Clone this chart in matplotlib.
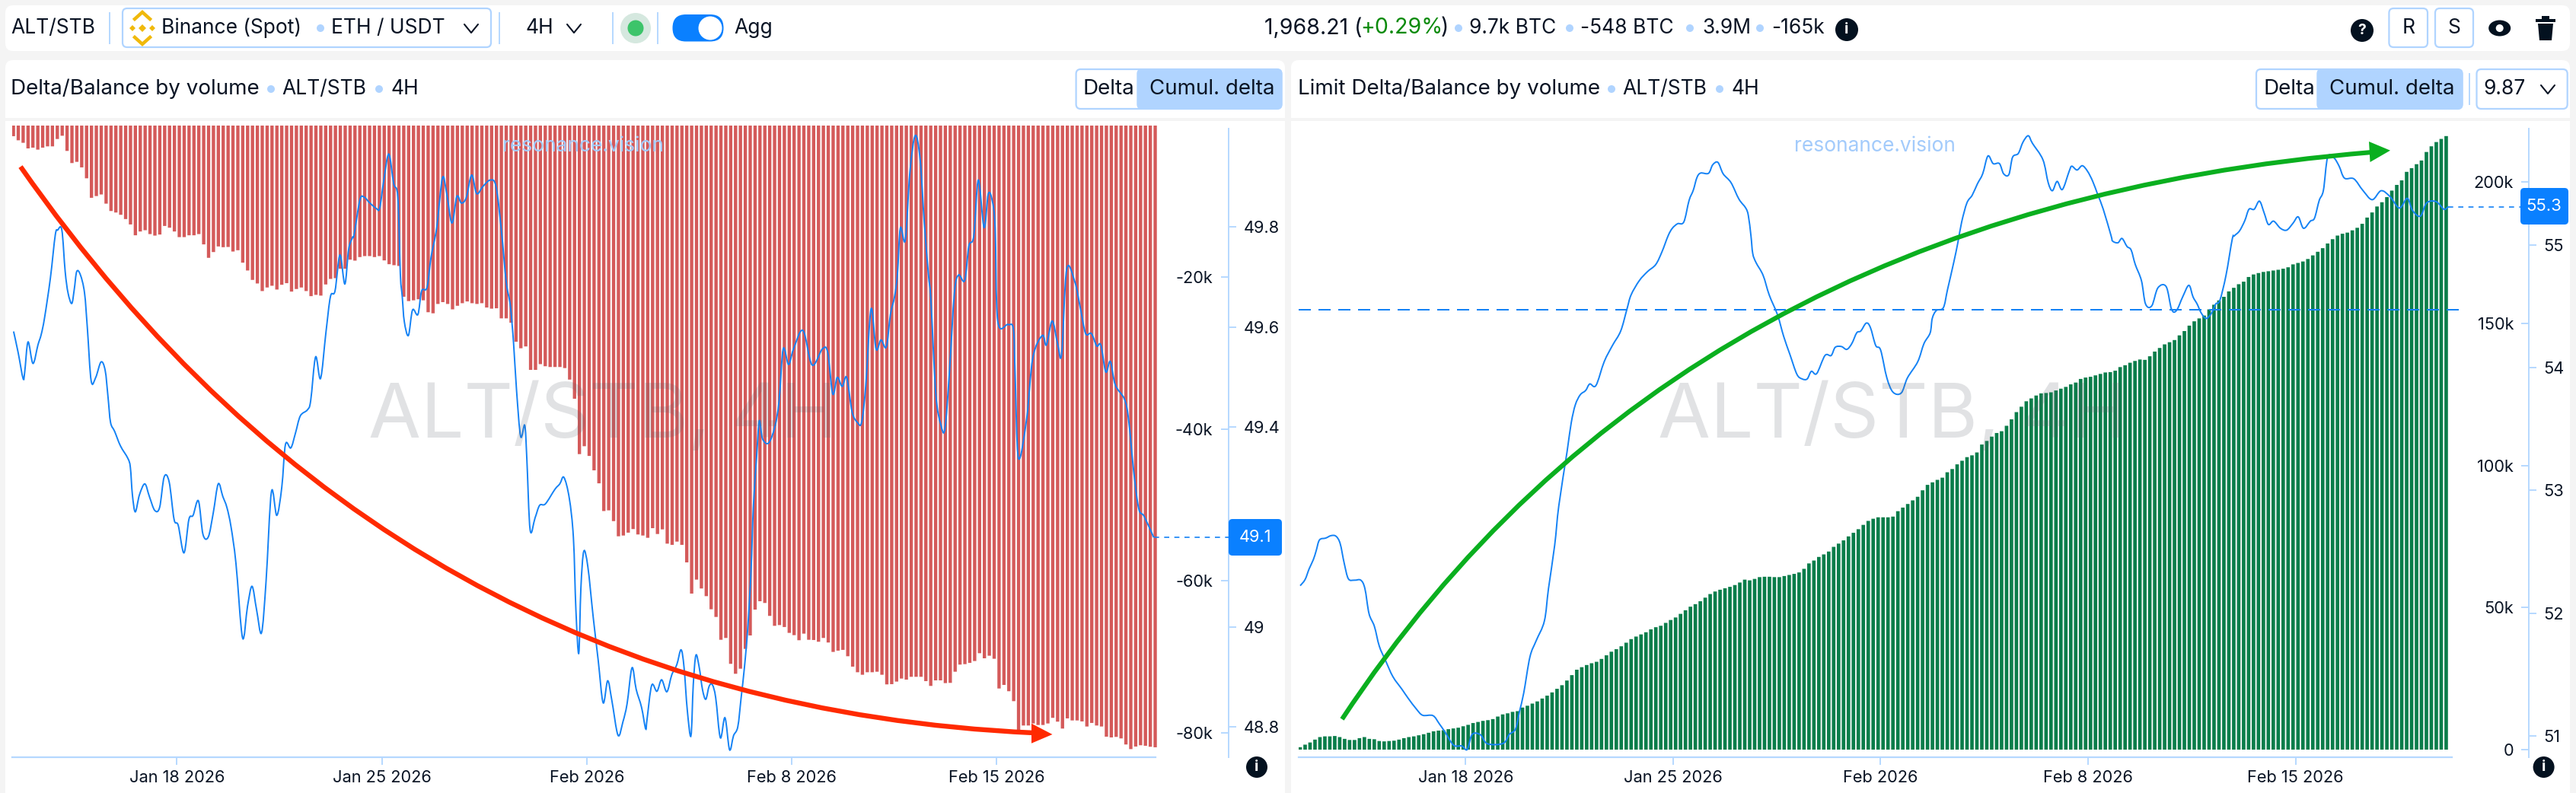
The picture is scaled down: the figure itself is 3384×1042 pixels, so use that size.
import numpy as np
import pandas as pd
import matplotlib
matplotlib.use("Agg")
import matplotlib.pyplot as plt
import matplotlib.dates as mdates
from matplotlib.patches import Circle, Ellipse, FancyBboxPatch, PathPatch, Polygon, Rectangle
from matplotlib.path import Path

plt.rcParams['font.family'] = ['Inter', 'DejaVu Sans']

W, H = 3384, 1042
BAR_START = pd.Timestamp("2026-01-12 10:00")
TICK_DATES = ["2026-01-18", "2026-01-25", "2026-02-01", "2026-02-08", "2026-02-15"]
TICK_LABELS = ["Jan 18 2026", "Jan 25 2026", "Feb 2026", "Feb 8 2026", "Feb 15 2026"]

# cumulative delta, left panel (thousands)
left_delta = [
    -1.40, -1.94, -2.27, -3.01, -2.91, -3.17, -2.91, -2.74, -2.74, -1.77,
    -1.34, -3.34, -4.94, -4.78, -5.51, -6.95, -9.52, -9.29, -9.08, -10.29,
    -11.26, -11.46, -11.76, -12.32, -13.03, -14.46, -13.96, -13.79, -14.30, -14.50,
    -14.36, -13.23, -13.46, -13.96, -14.70, -14.70, -14.46, -14.46, -14.30, -15.66,
    -17.43, -16.67, -15.93, -16.03, -16.00, -16.60, -16.43, -18.07, -19.10, -20.34,
    -20.81, -21.81, -21.34, -21.11, -21.61, -20.98, -20.77, -21.88, -21.54, -21.34,
    -21.81, -22.48, -22.31, -22.41, -20.94, -20.21, -20.11, -18.87, -18.87, -17.67,
    -17.80, -17.33, -17.20, -17.20, -17.33, -17.20, -17.77, -18.27, -18.40, -18.50,
    -22.56, -23.13, -23.03, -22.89, -23.03, -24.60, -24.74, -23.51, -23.27, -23.51,
    -24.22, -23.75, -23.41, -23.18, -23.41, -23.51, -23.41, -23.98, -24.13, -24.08,
    -25.41, -25.41, -25.98, -28.49, -29.35, -29.11, -32.20, -32.20, -31.44, -31.72,
    -31.82, -31.82, -31.82, -31.96, -33.48, -36.00, -43.30, -42.26, -43.54, -45.44,
    -47.15, -50.80, -50.71, -52.13, -54.13, -54.03, -53.65, -53.18, -53.89, -54.03,
    -54.33, -53.06, -53.83, -53.22, -55.10, -55.26, -54.83, -55.26, -57.57, -61.68,
    -59.84, -61.01, -62.02, -63.75, -64.76, -67.77, -67.53, -70.94, -72.25, -71.58,
    -68.97, -67.20, -63.79, -62.69, -62.92, -64.62, -65.93, -65.83, -66.09, -66.86,
    -67.16, -67.83, -66.96, -67.77, -67.80, -68.03, -67.53, -68.13, -69.37, -69.20,
    -69.10, -69.94, -71.31, -72.05, -72.38, -72.05, -72.05, -71.98, -72.38, -73.65,
    -73.62, -73.28, -72.88, -73.02, -72.65, -72.65, -72.65, -73.22, -73.85, -73.12,
    -73.12, -73.48, -73.45, -71.98, -71.04, -70.98, -70.81, -70.57, -69.54, -70.21,
    -69.87, -70.27, -74.19, -73.72, -74.55, -75.86, -79.73, -79.07, -79.07, -78.80,
    -79.00, -79.00, -78.80, -78.06, -78.56, -79.47, -78.13, -78.40, -78.40, -78.53,
    -79.20, -78.73, -79.07, -79.20, -80.54, -80.64, -80.57, -80.77, -81.57, -82.18,
    -81.84, -81.67, -81.74, -81.87, -81.94,
]

# balance line, left panel: bar position and value
left_line_pos = [
    0.04, 0.97, 1.98, 2.32, 3.0, 4.01, 5.03, 5.7, 6.38, 7.57, 8.58, 9.09, 9.93, 10.61, 11.2, 11.96,
    12.47, 12.98, 13.74, 14.58, 15.17, 15.94, 16.87, 17.96, 18.81, 19.4, 19.91, 20.75, 21.94, 23.46,
    23.97, 24.39, 24.98, 25.83, 26.93, 27.86, 28.96, 29.97, 30.9, 31.92, 32.93, 33.78, 34.96, 35.97,
    36.82, 37.92, 38.85, 39.95, 40.96, 41.98, 42.91, 43.75, 44.6, 45.61, 46.96, 47.98, 48.91, 49.84,
    50.85, 51.78, 52.88, 53.98, 55.0, 55.76, 56.86, 57.79, 58.8, 60.24, 60.92, 61.93, 62.95, 64.05,
    64.98, 65.91, 66.92, 67.93, 68.7, 69.54, 69.83, 71.01, 71.86, 72.96, 74.39, 75.07, 75.92, 76.93,
    77.94, 78.79, 79.3, 79.69, 80.11, 80.95, 81.8, 82.9, 83.66, 84.76, 85.6, 86.74, 87.92, 88.77,
    89.87, 90.88, 91.81, 92.82, 93.92, 94.94, 96.21, 97.73, 98.91, 100.01, 101.0, 101.84, 102.51,
    103.11, 103.95, 104.8, 105.22, 105.9, 106.91, 107.84, 109.03, 110.97, 111.98, 112.83, 113.93,
    114.77, 115.28, 115.87, 116.3, 116.89, 117.73, 118.83, 119.85, 120.86, 121.79, 122.64, 123.91,
    124.92, 125.77, 126.78, 127.63, 128.73, 129.57, 129.86, 130.81, 131.89, 132.84, 133.92, 134.93,
    135.95, 136.83, 137.44, 138.11, 138.86, 139.33, 139.87, 140.55, 141.23, 141.9, 142.58, 143.25,
    143.93, 144.88, 145.83, 146.77, 147.58, 148.46, 149.14, 149.82, 150.49, 151.17, 151.64, 152.32,
    152.86, 153.53, 154.8, 156.07, 156.92, 157.76, 158.86, 159.88, 161.82, 163.68, 165.79, 166.89,
    167.91, 168.84, 169.85, 170.78, 171.88, 172.98, 173.83, 174.67, 175.77, 176.79, 177.8, 178.9,
    179.74, 180.59, 181.18, 181.77, 182.79, 183.72, 184.82, 185.83, 186.68, 187.52, 188.03, 189.04,
    190.06, 190.91, 191.83, 192.85, 193.7, 194.96, 195.81, 196.82, 197.75, 198.93, 199.78, 200.6,
    201.2, 201.73, 203.84, 204.94, 205.28, 205.96, 207.65, 208.91, 210.86, 211.7, 212.89, 213.99,
    214.83, 215.85, 217.54, 218.64, 219.74, 220.92, 222.02, 222.86, 223.88, 224.81, 225.82, 227.68,
    228.53, 229.63, 230.64, 231.74, 233.69,
]
left_line_val = [
    49.591, 49.549, 49.497, 49.510, 49.570, 49.527, 49.564, 49.585, 49.618, 49.697, 49.784, 49.794, 49.794, 49.711, 49.668, 49.647,
    49.675, 49.711, 49.704, 49.668, 49.596, 49.492, 49.499, 49.530, 49.513, 49.459, 49.409, 49.391, 49.362, 49.337,
    49.319, 49.264, 49.230, 49.264, 49.286, 49.261, 49.233, 49.239, 49.300, 49.290, 49.215, 49.203, 49.148, 49.215,
    49.223, 49.252, 49.185, 49.180, 49.228, 49.286, 49.261, 49.239, 49.200, 49.127, 48.978, 49.041, 49.081, 49.034,
    48.988, 49.091, 49.270, 49.223, 49.279, 49.365, 49.358, 49.387, 49.422, 49.434, 49.452, 49.540, 49.497, 49.589,
    49.661, 49.672, 49.744, 49.686, 49.755, 49.780, 49.785, 49.854, 49.860, 49.849, 49.837, 49.838, 49.894, 49.946,
    49.887, 49.859, 49.706, 49.661, 49.611, 49.583, 49.634, 49.625, 49.672, 49.679, 49.740, 49.798, 49.898, 49.869,
    49.808, 49.861, 49.848, 49.859, 49.904, 49.867, 49.881, 49.894, 49.881, 49.793, 49.690, 49.643, 49.567,
    49.474, 49.381, 49.403, 49.337, 49.194, 49.218, 49.243, 49.246, 49.275, 49.286, 49.299, 49.257,
    49.178, 49.034, 48.947, 49.077, 49.151, 49.120, 49.019, 48.933, 48.848, 48.892, 48.853, 48.783,
    48.810, 48.846, 48.918, 48.875, 48.839, 48.796, 48.815, 48.883, 48.871, 48.894, 48.870, 48.904,
    48.924, 48.954, 48.919, 48.833, 48.782, 48.884, 48.943, 48.919, 48.874, 48.855, 48.881, 48.884,
    48.858, 48.778, 48.818, 48.754, 48.782, 48.800, 48.858, 48.919, 48.996, 49.112, 49.239, 49.341,
    49.412, 49.376, 49.368, 49.401, 49.452, 49.556, 49.525, 49.556, 49.593, 49.524, 49.556, 49.549,
    49.466, 49.499, 49.481, 49.499, 49.430, 49.409, 49.409, 49.481, 49.636, 49.556, 49.574, 49.560,
    49.625, 49.661, 49.706, 49.798, 49.774, 49.909, 49.983, 49.935, 49.808, 49.706, 49.654, 49.466,
    49.405, 49.396, 49.510, 49.668, 49.704, 49.693, 49.762, 49.782, 49.894, 49.799, 49.866, 49.853,
    49.798, 49.612, 49.605, 49.596, 49.510, 49.338, 49.416, 49.538, 49.583, 49.564, 49.612, 49.567,
    49.546, 49.715, 49.690, 49.639, 49.587, 49.587, 49.562, 49.564, 49.510, 49.531, 49.484, 49.456,
    49.416, 49.308, 49.236, 49.221, 49.179,
]

# limit cumulative delta, right panel (thousands)
right_delta = [
    0.86, 1.75, 2.52, 3.53, 4.42, 4.67, 4.67, 4.80, 4.42, 3.79,
    3.40, 3.40, 4.04, 4.42, 3.79, 3.66, 3.03, 2.90, 3.03, 3.15,
    3.53, 4.04, 4.42, 4.67, 5.05, 5.43, 5.94, 6.45, 6.70, 6.83,
    7.21, 7.46, 7.72, 8.23, 8.73, 9.37, 9.75, 10.13, 10.38, 10.76,
    11.65, 12.41, 12.79, 13.30, 13.55, 14.82, 15.46, 16.22, 16.98, 18.00,
    19.01, 20.15, 21.42, 22.69, 24.34, 26.24, 28.15, 29.04, 29.80, 30.43,
    30.94, 31.95, 33.22, 34.49, 35.38, 36.40, 37.66, 38.93, 39.82, 40.58,
    41.34, 42.36, 43.12, 43.63, 44.64, 45.66, 46.55, 47.82, 49.09, 50.35,
    51.24, 52.26, 53.53, 54.80, 55.69, 56.32, 56.83, 57.34, 57.97, 58.86,
    59.87, 59.62, 60.13, 60.76, 60.89, 60.89, 60.76, 60.76, 61.14, 61.52,
    61.90, 62.41, 63.68, 65.58, 66.60, 67.87, 68.76, 69.77, 71.42, 72.56,
    73.70, 75.10, 76.37, 77.64, 79.16, 80.56, 81.32, 81.83, 81.83, 81.83,
    82.08, 83.98, 85.25, 86.52, 87.79, 89.06, 91.34, 93.25,
    94.14, 95.02, 95.79, 97.69, 98.83, 100.48, 101.75, 103.02, 103.65, 104.67,
    107.46, 108.73, 110.25, 111.52, 112.15, 114.06, 116.34, 118.88, 120.78, 122.69,
    123.70, 124.72, 125.48, 125.61, 125.86, 126.50, 127.13, 127.76, 128.65, 129.29,
    130.56, 131.06, 131.32, 131.82, 132.33, 132.84, 132.97, 133.47, 134.74, 135.38,
    136.27, 136.90, 137.41, 137.28, 138.55, 140.20, 141.47, 142.74, 143.50, 144.26,
    145.91, 147.43, 149.34, 150.86, 151.88, 152.89, 155.05, 156.70, 158.22, 159.49,
    161.39, 162.66, 163.93, 164.82, 166.47, 167.36, 167.86, 168.25, 168.50, 168.75,
    169.01, 169.39, 169.89, 170.91, 171.42, 171.93, 172.81, 174.08, 175.35, 176.62,
    178.27, 179.79, 181.06, 181.70,
    182.1, 182.9, 183.8, 185.2, 187.4, 189.2, 191.3, 192.8, 194.6, 196.9,
    198.9, 200.5, 203.5, 204.8, 206.2, 207.5, 210.5, 212.5, 214.0, 215.1, 216.1,
]

# balance line, right panel: bar position and value
right_line_pos = [
    0.0, 0.99, 1.82, 2.66, 3.24, 3.91, 5.17, 6.25, 7.25, 8.09, 8.92, 9.76, 11.01, 12.27, 13.1, 13.94,
    15.02, 16.02, 17.28, 18.78, 20.62, 21.87, 23.54, 24.8, 26.88, 28.14, 29.39, 31.06, 32.73, 33.82,
    34.82, 36.49, 37.91, 41.08, 42.34, 43.59, 44.42, 45.26, 46.51, 47.77, 49.44, 50.27, 51.52, 52.36,
    54.03, 54.87, 55.7, 56.7, 57.79, 58.62, 59.88, 61.55, 63.22, 64.89, 66.14, 66.98, 68.65, 70.32,
    71.99, 73.24, 74.5, 75.34, 76.4, 77.67, 78.73, 79.58, 80.32, 81.07, 82.66, 83.51, 84.57, 85.63,
    87.22, 88.82, 90.2, 90.73, 91.26, 91.62, 92.29, 93.71, 94.96, 96.63, 97.88, 99.14, 100.56, 101.64,
    102.64, 103.48, 104.57, 106.24, 107.49, 108.32, 109.58, 110.66, 111.67, 112.67, 113.5, 114.59,
    115.43, 116.51, 117.51, 118.77, 120.02, 121.69, 122.94, 125.03, 126.28, 127.54, 127.96, 128.79,
    130.21, 131.05, 132.3, 133.14, 133.92, 134.98, 136.04, 137.1, 138.17, 139.23, 140.29, 141.56,
    142.41, 143.47, 144.22, 145.38, 146.34, 147.4, 148.25, 150.37, 151.43, 152.28, 153.24, 154.3,
    155.68, 156.21, 157.27, 158.33, 159.39, 160.45, 161.51, 162.58, 164.17, 164.46, 165.55, 166.38,
    167.38, 168.22, 169.06, 170.31, 171.14, 172.4, 173.65, 175.32, 176.41, 177.41, 178.66, 179.91,
    180.75, 181.58, 182.42, 183.42, 184.51, 185.34, 186.18, 187.43, 188.69, 189.11, 190.17, 191.23,
    192.08, 193.14, 194.2, 195.16, 196.01, 197.07, 198.45, 199.72, 200.99, 202.05, 203.12, 204.5,
    205.35, 206.3, 207.15, 208.0, 209.27, 210.33, 211.4, 213.31, 215.11, 217.02, 218.83, 220.63,
    222.54, 224.13, 225.19, 226.78, 228.06, 229.97, 231.56, 232.41,
]
right_line_val = [
    52.224, 52.274, 52.362, 52.436, 52.509, 52.597, 52.612, 52.632, 52.627, 52.568, 52.406, 52.280, 52.269, 52.269, 52.201, 51.996,
    51.893, 51.731, 51.614, 51.482, 51.379, 51.306, 51.218, 51.168, 51.165, 51.100, 51.027, 50.924, 50.918, 50.889,
    51.012, 51.009, 50.936, 50.939, 51.012, 51.056, 51.203, 51.350, 51.643, 51.775, 51.937, 52.201, 52.553, 52.876,
    53.316, 53.551, 53.698, 53.780, 53.815, 53.868, 53.856, 54.050, 54.182, 54.300, 54.476, 54.593, 54.710, 54.784,
    54.842, 54.945, 55.077, 55.137, 55.174, 55.189, 55.364, 55.447, 55.550, 55.587, 55.585, 55.654, 55.674, 55.581,
    55.509, 55.375, 55.302, 55.240, 55.075, 54.931, 54.857, 54.754, 54.593, 54.432, 54.256, 54.109, 53.947, 53.909,
    53.909, 53.971, 53.953, 54.100, 54.100, 54.167, 54.173, 54.150, 54.197, 54.285, 54.300, 54.364,
    54.329, 54.182, 54.144, 53.918, 53.801, 53.795, 53.918, 54.050, 54.197, 54.285, 54.402, 54.467,
    54.490, 54.637, 54.857, 55.019, 55.189, 55.344, 55.406, 55.499, 55.581, 55.726, 55.664, 55.664,
    55.581, 55.575, 55.716, 55.747, 55.840, 55.891, 55.829, 55.695, 55.509, 55.443, 55.519, 55.453,
    55.602, 55.643, 55.612, 55.647, 55.602, 55.519, 55.406, 55.292, 55.075, 55.033, 55.019, 55.054,
    54.989, 54.960, 54.842, 54.710, 54.520, 54.505, 54.652, 54.661, 54.476, 54.467, 54.578, 54.672,
    54.578, 54.520, 54.446, 54.402, 54.446, 54.520, 54.549, 54.754, 55.048, 55.075, 55.116, 55.199,
    55.292, 55.292, 55.358, 55.261, 55.168, 55.195, 55.137, 55.122, 55.178, 55.230, 55.137, 55.195,
    55.220, 55.364, 55.447, 55.716, 55.711, 55.643, 55.546, 55.540, 55.447, 55.370, 55.443, 55.395,
    55.302, 55.381, 55.282, 55.236, 55.344, 55.354, 55.292, 55.313,
]

INK = '#0a1424'
ICON = '#03111f'
AXIS_BLUE = '#b5d8ff'
LINE_BLUE = '#1482f5'
LABEL_BLUE = '#0a80ff'
PALE = '#b0d4ff'

fig = plt.figure(figsize=(W / 100, H / 100), dpi=100, facecolor='#f4f4f4')


def overlay(zorder):
    a = fig.add_axes([0, 0, 1, 1], zorder=zorder)
    a.set_xlim(0, W)
    a.set_ylim(H, 0)
    a.axis('off')
    a.patch.set_alpha(0)
    return a


back = overlay(0)
front = overlay(10)


def panel(x0, y0, x1, y1, r=10):
    back.add_patch(FancyBboxPatch((x0 + r, y0 + r), x1 - x0 - 2 * r, y1 - y0 - 2 * r,
                                  boxstyle=f"round,pad={r},rounding_size={r}", fc='white', ec='none'))


panel(7, 7, 3376, 67)
panel(7, 79, 1688, 175)
panel(1696, 79, 3376, 175)
back.add_patch(Rectangle((7, 155), 1681, 4, fc='#f4f4f4', ec='none', zorder=3))
back.add_patch(Rectangle((1696, 155), 1680, 4, fc='#f4f4f4', ec='none', zorder=3))
back.add_patch(Rectangle((7, 159), 1681, H - 159, fc='white', ec='none', zorder=3))
back.add_patch(Rectangle((1696, 159), 1680, H - 159, fc='white', ec='none', zorder=3))


def label(x, y, s, size=19, color=INK, ha='left', **kw):
    front.text(x, y, s, fontsize=size, color=color, ha=ha, va='center', **kw)


def dot(x, y, r=5):
    front.add_patch(Circle((x, y), r, fc=PALE, ec='none'))


def sep(x, y0=17, y1=57):
    front.plot([x, x], [y0, y1], color=AXIS_BLUE, lw=1.4)


def chevron(x, y):
    front.plot([x - 9, x, x + 9], [y - 5, y + 6, y - 5], color=INK, lw=1.5, solid_capstyle='round')


def box(x0, y0, x1, y1, fc='none', r=6):
    front.add_patch(FancyBboxPatch((x0 + r, y0 + r), x1 - x0 - 2 * r, y1 - y0 - 2 * r,
                                   boxstyle=f"round,pad={r},rounding_size={r}", fc=fc, ec=PALE, lw=1.6))


def badge(x, y, s, r=15):
    front.add_patch(Circle((x, y), r, fc=ICON, ec='none'))
    front.text(x, y, s, fontsize=14, color='white', ha='center', va='center', fontweight='bold')


def smooth_line(a, xs, ys, **kw):
    # the chart draws its line as a spline through the points, so do the same
    pts = np.column_stack([xs, ys])
    verts = [pts[0]]
    codes = [Path.MOVETO]
    for i in range(len(pts) - 1):
        p0 = pts[max(i - 1, 0)]
        p3 = pts[min(i + 2, len(pts) - 1)]
        verts += [pts[i] + (pts[i + 1] - p0) / 6, pts[i + 1] - (p3 - pts[i]) / 6, pts[i + 1]]
        codes += [Path.CURVE4] * 3
    a.add_patch(PathPatch(Path(verts, codes), fc='none', ec=LINE_BLUE, **kw))


def chart(px0, px1, bar0_px, bar_step_px, ylim, ylim2):
    pos = [px0 / W, 1 - 995 / H, (px1 - px0) / W, (995 - 165) / H]
    ax = fig.add_axes(pos, zorder=5)
    ax.patch.set_alpha(0)
    start = mdates.date2num(BAR_START)
    day_px = bar_step_px * 6
    ax.set_xlim(start + (px0 - bar0_px) / day_px, start + (px1 - bar0_px) / day_px)
    ax.set_ylim(*ylim)
    ax2 = ax.twinx()
    ax2.set_ylim(*ylim2)
    ax2.patch.set_alpha(0)
    for a in (ax, ax2):
        for s in a.spines.values():
            s.set_visible(False)
    ax.set_xticks(mdates.date2num(pd.to_datetime(TICK_DATES)))
    ax.set_xticklabels(TICK_LABELS)
    ax.tick_params(axis='x', length=7.2, width=1.4, color=AXIS_BLUE, labelsize=15.7, labelcolor=INK, pad=5)
    ax.yaxis.tick_right()
    return ax, ax2, start


def y_axes(ax, ax2, ticks, tick_labels, ticks2, tick_labels2, pad, top_val):
    ax.set_yticks(ticks)
    ax.set_yticklabels(tick_labels)
    for t in ax.get_yticklabels():
        t.set_ha('right')
    ax.tick_params(axis='y', direction='in', length=7.2, width=1.4, color=AXIS_BLUE,
                   labelsize=15.7, labelcolor=INK, pad=pad)
    ax2.set_yticks(ticks2)
    ax2.set_yticklabels(tick_labels2)
    ax2.tick_params(axis='y', direction='out', length=7.2, width=1.4, color=AXIS_BLUE,
                    labelsize=15.7, labelcolor=INK, pad=7.2)
    ax.spines['right'].set_visible(True)
    ax.spines['right'].set_color(AXIS_BLUE)
    ax.spines['right'].set_linewidth(1.4)
    ax.spines['right'].set_bounds(ax.get_ylim()[0], top_val)


# ---- left panel
ax, ax2, start = chart(16, 1614, 17.6, 6.41, (-83.25, 0), (48.739, 50.003))
x_left = start + np.arange(len(left_delta)) / 6
ax.bar(x_left, left_delta, width=0.68 / 6, color='#d45a5a', snap=False, zorder=2)
smooth_line(ax2, start + np.array(left_line_pos) / 6, left_line_val, lw=1.4, zorder=4)
ax2.plot([start + left_line_pos[-1] / 6, ax.get_xlim()[1]], [left_line_val[-1]] * 2,
         color=LINE_BLUE, lw=1.2, dashes=(4, 4), zorder=4)
y_axes(ax, ax2, [-20, -40, -60, -80], ['-20k', '-40k', '-60k', '-80k'],
       [48.8, 49, 49.4, 49.6, 49.8], ['48.8', '49', '49.4', '49.6', '49.8'], -15.1, -0.4)
ax.spines['bottom'].set_visible(True)
ax.spines['bottom'].set_color(AXIS_BLUE)
ax.spines['bottom'].set_linewidth(1.6)
ax.spines['bottom'].set_bounds(ax.get_xlim()[0], start + 234.1 / 6)

# ---- right panel
bx, bx2, start = chart(1706, 3321.5, 1708, 6.489, (-2.68, 219.8), (50.826, 55.974))
x_right = start + np.arange(len(right_delta)) / 6
bx.bar(x_right, right_delta, width=0.72 / 6, color='#0a7d4a', snap=False, zorder=2)
smooth_line(bx2, start + np.array(right_line_pos) / 6, right_line_val, lw=1.4, zorder=4)
bx2.plot([start + right_line_pos[-1] / 6, bx.get_xlim()[1]], [right_line_val[-1]] * 2,
         color=LINE_BLUE, lw=1.2, dashes=(4, 4), zorder=4)
bx.plot([bx.get_xlim()[0], start + 234.7 / 6], [155, 155], color=LINE_BLUE, lw=1.44, dashes=(8, 5), zorder=3)
y_axes(bx, bx2, [0, 50, 100, 150, 200], ['0', '50k', '100k', '150k', '200k'],
       [51, 52, 53, 54, 55], ['51', '52', '53', '54', '55'], -14, 218.8)
bx.spines['bottom'].set_visible(True)
bx.spines['bottom'].set_color(AXIS_BLUE)
bx.spines['bottom'].set_linewidth(1.6)
bx.spines['bottom'].set_bounds(bx.get_xlim()[0], start + 233.2 / 6)

# ---- watermarks
for x, y in [(484, 549), (2178, 549)]:
    front.text(x, y, 'ALT/STB, 4H', fontsize=72, color=(0.35, 0.38, 0.42), alpha=0.18, ha='left', va='center')
for x in (766, 2463):
    label(x, 192, 'resonance.vision', size=19, color='#a3cbfb', ha='center')

# ---- top bar
label(14, 37, 'ALT/STB')
sep(144)
box(161, 11, 645, 62)
for cx, cy, r in [(187, 37, 5), (174, 37, 4), (200, 37, 4)]:
    front.add_patch(Polygon([(cx - r, cy), (cx, cy - r), (cx + r, cy), (cx, cy + r)], fc='#f0b90b', ec='none'))
for sign in (-1, 1):
    front.plot([177, 187, 197], [37 + sign * 12, 37 + sign * 21, 37 + sign * 12], color='#f0b90b', lw=3.2, solid_joinstyle='miter')
label(212, 37, 'Binance (Spot)')
dot(421, 37)
label(435, 37, 'ETH / USDT')
chevron(619, 37)
sep(656)
label(690, 37, '4H')
chevron(754, 37)
sep(805)
front.add_patch(Circle((835, 37), 20, fc='#d5e8df', ec='none'))
front.add_patch(Circle((835, 37), 10.5, fc='#3cc46a', ec='none'))
sep(863.5)
front.add_patch(FancyBboxPatch((901, 36.5), 32, 0.5, boxstyle="round,pad=17.5,rounding_size=17.5",
                               fc=LABEL_BLUE, ec='none'))
front.add_patch(Circle((933, 37), 15.5, fc='white', ec='none'))
label(964.6, 37, 'Agg')

label(1661, 37, '1,968.21 (', size=20.5)
label(1787.5, 37, '+0.29%', size=20.5, color='#0a8a0a')
label(1893, 37, ')', size=20.5)
dot(1916, 37)
label(1930, 37, '9.7k BTC')
dot(2062, 37)
label(2076.5, 37, '-548 BTC')
dot(2220, 37)
label(2236, 37, '3.9M')
dot(2312, 37)
label(2327.5, 37, '-165k')
badge(2426, 39, 'i')
badge(3103, 40, '?')
box(3138.4, 11, 3189, 62)
label(3163.7, 37, 'R', ha='center')
box(3199, 11, 3249, 62)
label(3224, 37, 'S', ha='center')
# eye and bin icons
front.add_patch(Ellipse((3283.7, 37), 29, 21, fc=ICON, ec='none'))
front.add_patch(Circle((3283.7, 37), 5, fc='white', ec='none'))
front.fill([3334, 3354, 3352, 3336], [31, 31, 53, 53], color=ICON, lw=0)
front.fill([3331, 3357, 3357, 3331], [25, 25, 29, 29], color=ICON, lw=0)
front.fill([3339, 3349, 3349, 3339], [21, 21, 25, 25], color=ICON, lw=0)

# ---- panel headers
label(14, 117, 'Delta/Balance by volume', size=20)
dot(356, 117)
label(370, 117, 'ALT/STB')
dot(498, 117)
label(513.5, 117, '4H')

label(1704.7, 117, 'Limit Delta/Balance by volume', size=20)
dot(2117, 117)
label(2131, 117, 'ALT/STB')
dot(2259, 117)
label(2274, 117, '4H')


def toggle(x0, split, x1):
    front.add_patch(FancyBboxPatch((split, 97), x1 - split - 6, 40, boxstyle="round,pad=6,rounding_size=6",
                                   fc=PALE, ec=PALE, lw=1.0))
    front.add_patch(Rectangle((split, 91), 12, 52, fc=PALE, ec='none'))
    box(x0, 91, x1, 143)
    label((x0 + split) / 2, 117, 'Delta', ha='center', size=20)
    label((split + x1) / 2, 117, 'Cumul. delta', ha='center', size=20)


toggle(1413.6, 1500, 1683.6)
toggle(2964, 3050, 3234.6)
sep(3243.7, 97, 137)
box(3253.5, 91, 3372.7, 143)
label(3262.6, 117, '9.87')
chevron(3347, 117)

# ---- last value labels
front.add_patch(FancyBboxPatch((1619, 687), 60, 38, boxstyle="round,pad=5,rounding_size=5", fc=LABEL_BLUE, ec='none'))
label(1649, 706, '49.1', size=15.7, color='white', ha='center')
front.add_patch(FancyBboxPatch((3316, 252), 53, 38, boxstyle="round,pad=5,rounding_size=5", fc=LABEL_BLUE, ec='none'))
label(3342, 271, '55.3', size=16, color='white', ha='center')
badge(1651, 1008, 'i', r=14)
badge(3341.6, 1008, 'i', r=14)

# ---- hand drawn arrows
front.add_patch(PathPatch(Path([(27, 219), (520, 925), (1358, 963)], [Path.MOVETO, Path.CURVE3, Path.CURVE3]),
                          fc='none', ec='#ff2a00', lw=4.6, capstyle='butt'))
front.add_patch(Polygon([(1382.5, 965), (1355, 950.7), (1355, 976.7)], fc='#ff2a00', ec='none'))
front.add_patch(PathPatch(Path([(1763, 945), (2204, 275), (3116, 200)], [Path.MOVETO, Path.CURVE3, Path.CURVE3]),
                          fc='none', ec='#0aaf1f', lw=4.4, capstyle='butt'))
front.add_patch(Polygon([(3140, 197.7), (3112, 186), (3113.5, 213)], fc='#0aaf1f', ec='none'))

fig.savefig('out.png', dpi=100, facecolor=fig.get_facecolor())
